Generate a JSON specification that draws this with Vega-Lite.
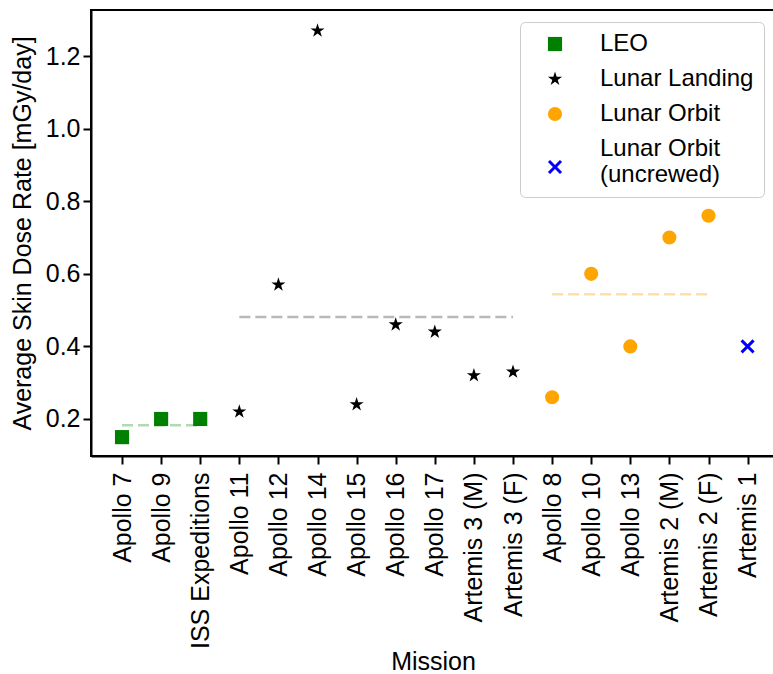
{
  "$schema": "https://vega.github.io/schema/vega-lite/v6.json",
  "width": 684,
  "height": 446,
  "autosize": {"type": "none"},
  "padding": {"left": 91, "top": 10, "right": 0, "bottom": 218},
  "background": "white",
  "config": {
    "font": "Liberation Sans",
    "view": {"stroke": "black", "strokeWidth": 2},
    "axis": {
      "labelFont": "Liberation Sans",
      "titleFont": "Liberation Sans",
      "labelFontSize": 25,
      "titleFontSize": 25,
      "titleFontWeight": "normal",
      "labelColor": "black",
      "titleColor": "black",
      "grid": false,
      "domainColor": "black",
      "domainWidth": 2,
      "tickColor": "black",
      "tickWidth": 2,
      "tickSize": 8
    },
    "legend": {
      "labelFont": "Liberation Sans",
      "labelFontSize": 24,
      "labelColor": "black"
    }
  },
  "datasets": {
    "missions": [
      {"Mission": "Apollo 7", "Type": "LEO", "Dose": 0.15},
      {"Mission": "Apollo 9", "Type": "LEO", "Dose": 0.20},
      {"Mission": "ISS Expeditions", "Type": "LEO", "Dose": 0.20},
      {"Mission": "Apollo 11", "Type": "Lunar Landing", "Dose": 0.22},
      {"Mission": "Apollo 12", "Type": "Lunar Landing", "Dose": 0.57},
      {"Mission": "Apollo 14", "Type": "Lunar Landing", "Dose": 1.27},
      {"Mission": "Apollo 15", "Type": "Lunar Landing", "Dose": 0.24},
      {"Mission": "Apollo 16", "Type": "Lunar Landing", "Dose": 0.46},
      {"Mission": "Apollo 17", "Type": "Lunar Landing", "Dose": 0.44},
      {"Mission": "Artemis 3 (M)", "Type": "Lunar Landing", "Dose": 0.32},
      {"Mission": "Artemis 3 (F)", "Type": "Lunar Landing", "Dose": 0.33},
      {"Mission": "Apollo 8", "Type": "Lunar Orbit", "Dose": 0.26},
      {"Mission": "Apollo 10", "Type": "Lunar Orbit", "Dose": 0.60},
      {"Mission": "Apollo 13", "Type": "Lunar Orbit", "Dose": 0.40},
      {"Mission": "Artemis 2 (M)", "Type": "Lunar Orbit", "Dose": 0.70},
      {"Mission": "Artemis 2 (F)", "Type": "Lunar Orbit", "Dose": 0.76},
      {"Mission": "Artemis 1", "Type": "Lunar Orbit (uncrewed)", "Dose": 0.40}
    ],
    "means": [
      {"Type": "LEO", "First": "Apollo 7", "Last": "ISS Expeditions", "Mean": 0.183},
      {"Type": "Lunar Landing", "First": "Apollo 11", "Last": "Artemis 3 (F)", "Mean": 0.481},
      {"Type": "Lunar Orbit", "First": "Apollo 8", "Last": "Artemis 2 (F)", "Mean": 0.544}
    ]
  },
  "layer": [
    {
      "data": {"name": "means"},
      "mark": {"type": "rule", "strokeDash": [11, 5], "strokeWidth": 2.5},
      "encoding": {
        "x": {
          "field": "First",
          "type": "nominal",
          "scale": {
            "type": "point",
            "domain": ["Apollo 7", "Apollo 9", "ISS Expeditions", "Apollo 11", "Apollo 12", "Apollo 14", "Apollo 15", "Apollo 16", "Apollo 17", "Artemis 3 (M)", "Artemis 3 (F)", "Apollo 8", "Apollo 10", "Apollo 13", "Artemis 2 (M)", "Artemis 2 (F)", "Artemis 1"],
            "padding": 0.747,
            "align": 0.531
          },
          "title": "Mission",
          "axis": {"labelAngle": -90, "labelPadding": 8, "titlePadding": 1, "labelLimit": 0}
        },
        "x2": {"field": "Last"},
        "y": {
          "field": "Mean",
          "type": "quantitative",
          "scale": {"domain": [0.098, 1.327], "nice": false, "zero": false},
          "title": "Average Skin Dose Rate [mGy/day]",
          "axis": {"values": [0.2, 0.4, 0.6, 0.8, 1.0, 1.2], "format": ".1f", "labelPadding": 3, "titlePadding": 10}
        },
        "stroke": {
          "field": "Type",
          "type": "nominal",
          "scale": {
            "domain": ["LEO", "Lunar Landing", "Lunar Orbit"],
            "range": ["#b3d9b3", "#b8b8b8", "#ffdfa6"]
          },
          "legend": null
        }
      }
    },
    {
      "data": {"name": "missions"},
      "mark": {"type": "point", "filled": true, "size": 200, "opacity": 1, "strokeWidth": 0},
      "encoding": {
        "x": {"field": "Mission", "type": "nominal"},
        "y": {"field": "Dose", "type": "quantitative"},
        "color": {
          "field": "Type",
          "type": "nominal",
          "scale": {
            "domain": ["LEO", "Lunar Landing", "Lunar Orbit", "Lunar Orbit (uncrewed)"],
            "range": ["#008000", "#000000", "#FFA500", "#0000FF"]
          },
          "legend": {
            "title": null,
            "orient": "none",
            "legendX": 429,
            "legendY": 12,
            "padding": 10,
            "fillColor": "white",
            "strokeColor": "#cccccc",
            "cornerRadius": 5,
            "symbolSize": 200,
            "symbolOffset": 13,
            "labelOffset": 33,
            "labelLimit": 0,
            "rowPadding": 11,
            "symbolOpacity": 1,
            "symbolStrokeWidth": 0,
            "labelExpr": "datum.label == 'Lunar Orbit (uncrewed)' ? ['Lunar Orbit', '(uncrewed)'] : datum.label",
            "encode": {
              "symbols": {"update": {"y": {"signal": "datum.value == 'Lunar Orbit (uncrewed)' ? 30 : 12"}}}
            }
          }
        },
        "shape": {
          "field": "Type",
          "type": "nominal",
          "scale": {
            "domain": ["LEO", "Lunar Landing", "Lunar Orbit", "Lunar Orbit (uncrewed)"],
            "range": [
              "square",
              "M0,-1.05L0.2357,-0.3245L0.9986,-0.3245L0.3815,0.1239L0.6172,0.8495L0,0.4011L-0.6172,0.8495L-0.3815,0.1239L-0.9986,-0.3245L-0.2357,-0.3245Z",
              "circle",
              "M-1,-0.7L-0.7,-1L0,-0.3L0.7,-1L1,-0.7L0.3,0L1,0.7L0.7,1L0,0.3L-0.7,1L-1,0.7L-0.3,0Z"
            ]
          },
          "legend": {
            "title": null,
            "orient": "none",
            "legendX": 429,
            "legendY": 12,
            "padding": 10,
            "fillColor": "white",
            "strokeColor": "#cccccc",
            "cornerRadius": 5,
            "symbolSize": 200,
            "symbolOffset": 13,
            "labelOffset": 33,
            "labelLimit": 0,
            "rowPadding": 11,
            "symbolOpacity": 1,
            "symbolStrokeWidth": 0,
            "labelExpr": "datum.label == 'Lunar Orbit (uncrewed)' ? ['Lunar Orbit', '(uncrewed)'] : datum.label",
            "encode": {
              "symbols": {"update": {"y": {"signal": "datum.value == 'Lunar Orbit (uncrewed)' ? 30 : 12"}}}
            }
          }
        }
      }
    }
  ]
}
